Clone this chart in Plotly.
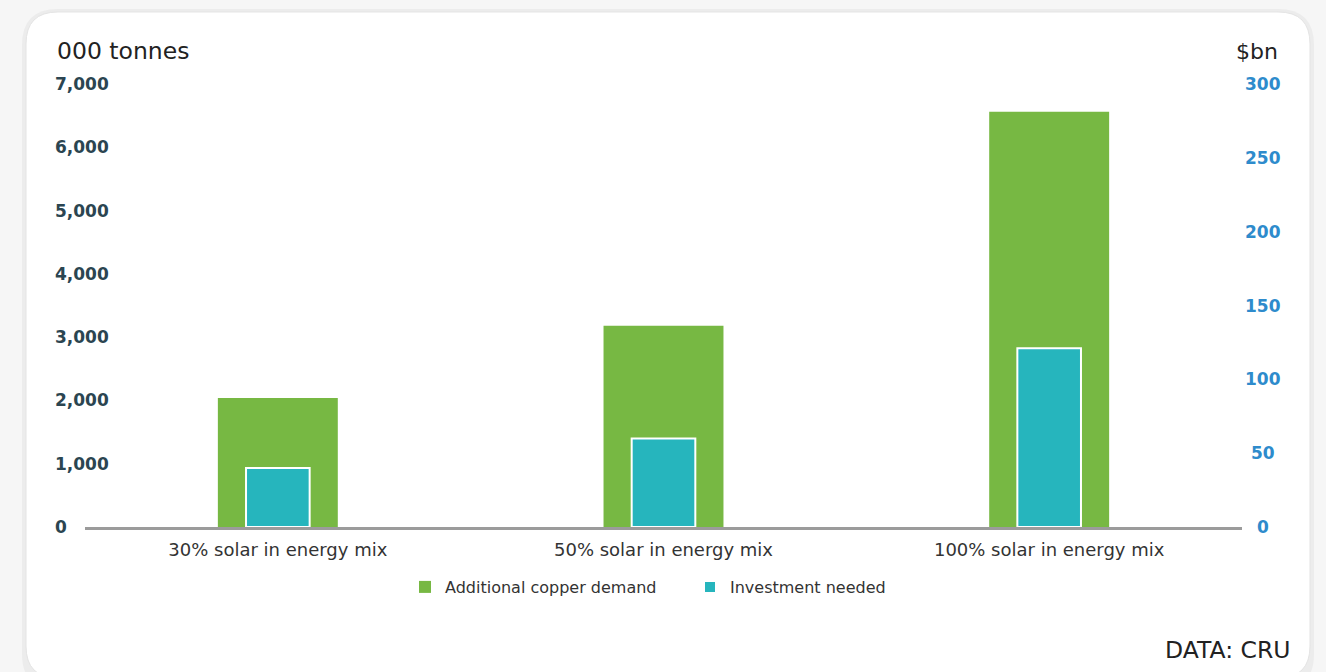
import plotly.graph_objects as go

categories = ["30% solar in energy mix", "50% solar in energy mix", "100% solar in energy mix"]
copper_demand = [2040, 3180, 6560]      # 000 tonnes (left axis)
investment = [40, 60, 121]              # $bn (right axis)
left_ticks = [0, 1000, 2000, 3000, 4000, 5000, 6000, 7000]
right_ticks = [0, 50, 100, 150, 200, 250, 300]

W, H = 1326, 672
L, R, T, B = 85, 84, 84, 145
PW, PH = W - L - R, H - T - B
FONT = "DejaVu Sans"

def px(x):
    return (x - L) / PW

def py(y):
    return (H - B - y) / PH

def rounded_rect(x0, y0, x1, y1, r):
    pts = [
        ("M", x0 + r, y0), ("L", x1 - r, y0), ("Q", x1, y0, x1, y0 + r),
        ("L", x1, y1 - r), ("Q", x1, y1, x1 - r, y1), ("L", x0 + r, y1),
        ("Q", x0, y1, x0, y1 - r), ("L", x0, y0 + r), ("Q", x0, y0, x0 + r, y0),
    ]
    parts = []
    for p in pts:
        if p[0] == "Q":
            parts.append(f"Q {px(p[1]):.5f},{py(p[2]):.5f} {px(p[3]):.5f},{py(p[4]):.5f}")
        else:
            parts.append(f"{p[0]} {px(p[1]):.5f},{py(p[2]):.5f}")
    return " ".join(parts) + " Z"

fig = go.Figure()
fig.add_trace(go.Bar(
    x=categories, y=copper_demand, name="Additional copper demand",
    marker=dict(color="#77b843", line=dict(width=0)), width=0.311,
    yaxis="y",
))
fig.add_trace(go.Bar(
    x=categories, y=investment, name="Investment needed",
    marker=dict(color="#26b5bd", line=dict(color="white", width=2)), width=0.165,
    yaxis="y2",
))

shapes = [
    dict(type="path", xref="paper", yref="paper", layer="below",
         path=rounded_rect(22, 9, 1314, 690, 36), fillcolor="#ececec", line=dict(width=0)),
    dict(type="path", xref="paper", yref="paper", layer="below",
         path=rounded_rect(26, 12, 1310, 678, 32), fillcolor="white", line=dict(color="#e4e4e4", width=1)),
]

annotations = []
for v in left_ticks:
    annotations.append(dict(
        x=px(53), xref="paper", y=v, yref="y", xanchor="left", yanchor="middle",
        text=f"{v:,}", showarrow=False,
        font=dict(family=FONT, size=17, color="#2b4551", weight="bold"),
    ))
for v in right_ticks:
    annotations.append(dict(
        x=px(1263), xref="paper", y=v, yref="y2", xanchor="center", yanchor="middle",
        text=f"{v}", showarrow=False,
        font=dict(family=FONT, size=17, color="#2e8bcc", weight="bold"),
    ))
annotations += [
    dict(x=px(55), y=py(51), xref="paper", yref="paper", xanchor="left", yanchor="middle",
         text="000 tonnes", showarrow=False, font=dict(family=FONT, size=23.5, color="#222222")),
    dict(x=px(1280), y=py(51), xref="paper", yref="paper", xanchor="right", yanchor="middle",
         text="$bn", showarrow=False, font=dict(family=FONT, size=22, color="#222222")),
    dict(x=px(1292), y=py(650), xref="paper", yref="paper", xanchor="right", yanchor="middle",
         text="DATA: CRU", showarrow=False, font=dict(family=FONT, size=23.5, color="#222222")),
]

fig.update_layout(
    width=W, height=H,
    margin=dict(l=L, r=R, t=T, b=B, pad=0),
    paper_bgcolor="#f6f6f6",
    plot_bgcolor="rgba(0,0,0,0)",
    barmode="overlay",
    font=dict(family=FONT, color="#333333"),
    shapes=shapes,
    annotations=annotations,
    showlegend=True,
    legend=dict(
        orientation="h", x=px(421 - 16), xanchor="left", y=py(587), yanchor="middle",
        font=dict(family=FONT, size=16, color="#333333"),
        bgcolor="rgba(0,0,0,0)", itemclick=False, entrywidth=240,
    ),
    xaxis=dict(
        showline=True, linecolor="#9b9b9b", linewidth=3, showgrid=False, zeroline=False,
        ticks="", tickfont=dict(family=FONT, size=18, color="#333333"),
        ticklabelstandoff=4,
    ),
    yaxis=dict(
        range=[0, 7000], showgrid=False, zeroline=False, showline=False,
        showticklabels=False, ticks="", tickvals=left_ticks,
    ),
    yaxis2=dict(
        range=[0, 300], overlaying="y", side="right", showgrid=False, zeroline=False,
        showline=False, showticklabels=False, ticks="", tickvals=right_ticks,
    ),
)

fig.write_html("out.html")
